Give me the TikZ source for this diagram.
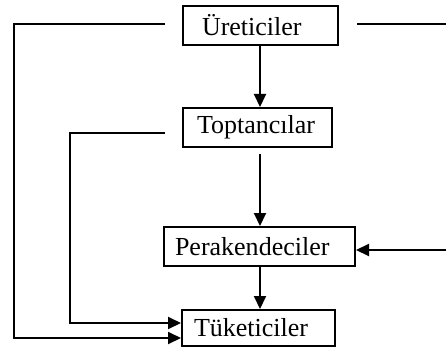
\documentclass[tikz,border=0pt]{standalone}
\usepackage{fontspec}
\setmainfont{Liberation Serif}
\usetikzlibrary{arrows.meta}
\begin{document}
\begin{tikzpicture}[x=1pt,y=-1pt,
  box/.style={draw,line width=2pt,inner ysep=0pt,minimum height=39pt,
    align=left,font=\fontsize{26}{30}\selectfont},
  link/.style={line width=2pt},
  arr/.style={link,-{Triangle[length=13pt,width=12pt]}}]
\useasboundingbox (0,0) rectangle (446,350);

% stages of the distribution channel (text sits toward the left edge)
\node[box,inner xsep=19pt,text width=117pt] (ure) at (260.5,25.5) {Üreticiler};
\node[box,inner xsep=14pt,text width=121pt] (top) at (257.5,127.5) {Toptancılar};
\node[box,inner xsep=11pt,text width=169pt] (per) at (259.5,246.5) {Perakendeciler};
\node[box,inner xsep=12pt,text width=129pt,minimum height=36pt] (tuk) at (258.5,328) {Tüketiciler};

% free ends of the open connectors
\coordinate (ureL) at (165,24);
\coordinate (ureR) at (357,24);
\coordinate (edgeR) at (446,24);
\coordinate (topL) at (165,133);
\coordinate (gap) at (260,154);
\coordinate (inR) at (446,250);

% main chain
\draw[arr] (ure.south -| gap) -- (top.north -| gap);
\draw[arr] (gap) -- (per.north -| gap);
\draw[arr] (per.south -| gap) -- (tuk.north -| gap);

% direct routes to consumers
\draw[arr] (ureL) -- (14,24) -- (14,338) -- (tuk.west |- 0,338);
\draw[arr] (topL) -- (70,133) -- (70,323) -- (tuk.west |- 0,323);

% right-hand route
\draw[link] (ureR) -- (edgeR);
\draw[arr] (inR) -- (per.east |- inR);
\end{tikzpicture}
\end{document}
